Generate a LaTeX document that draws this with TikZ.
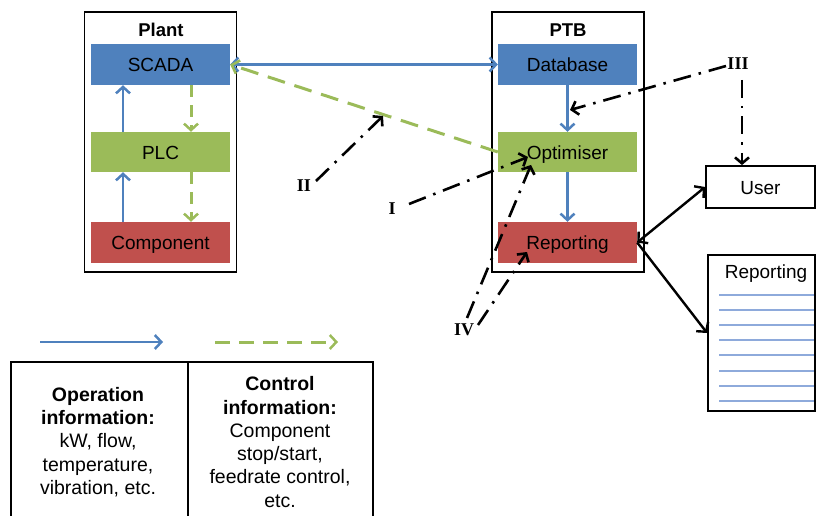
\documentclass[tikz,border=0pt]{standalone}
\usepackage{fontspec}
\setmainfont{Liberation Sans}
\newfontfamily\romfont{Liberation Serif}
\usetikzlibrary{arrows.meta}
\definecolor{bluebox}{HTML}{4F81BD}
\definecolor{greenbox}{HTML}{9BBB59}
\definecolor{redbox}{HTML}{C0504D}
\definecolor{lineblue}{HTML}{8EAADB}
\tikzset{
  unitbox/.style={draw=none, minimum width=139pt, minimum height=41pt, inner sep=0pt,
    text height=14.6pt, text depth=0pt, font=\fontsize{19}{22}\selectfont},
  frame/.style={draw=black, line width=1.8pt, inner sep=0pt, fill=none},
  titletext/.style={font=\fontsize{18.5}{22}\selectfont\bfseries, inner sep=0pt},
  barb/.style={-{Straight Barb[length=6.5pt,width=14pt,line width=2.5pt]}},
  opArr/.style={draw=bluebox, line width=2.5pt, barb},
  ctrlArr/.style={draw=greenbox, line width=3pt, dash pattern=on 12pt off 8pt, barb},
  ddArr/.style={draw=black, line width=2.6pt, dash pattern=on 18pt off 8pt on 2.5pt off 8pt,
    -{Straight Barb[length=6pt,width=14pt,line width=2.6pt]}},
  blkArr/.style={draw=black, line width=2.4pt, -{Straight Barb[length=6.5pt,width=15pt,line width=2.4pt]}},
  roman/.style={font=\fontsize{18}{20}\selectfont\romfont\bfseries, inner sep=0pt},
  plainbox/.style={draw=black, line width=1.8pt, inner sep=0pt, fill=white},
  celltext/.style={align=center, font=\fontsize{19.5}{23.3}\selectfont, inner sep=0pt},
}
\begin{document}
\begin{tikzpicture}[x=1pt,y=-1pt]
\useasboundingbox (0,0) rectangle (817,516);

% Plant
\node[frame, minimum width=152pt, minimum height=260pt] (plant) at (160.5,142) {};
\node[titletext] (planttitle) at (161,30) {Plant};
\node[unitbox, fill=bluebox] (scada) at (160.5,64.5) {SCADA};
\node[unitbox, fill=greenbox, minimum height=40pt] (plc) at (160.5,152) {PLC};
\node[unitbox, fill=redbox] (comp) at (160.5,242.5) {Component};

\draw[opArr] ([xshift=-37.5pt]comp.north) -- ([xshift=-37.5pt]plc.south);
\draw[opArr] ([xshift=-37.5pt]plc.north) -- ([xshift=-37.5pt]scada.south);
\draw[ctrlArr] ([xshift=30.5pt]scada.south) -- ([xshift=30.5pt]plc.north);
\draw[ctrlArr] ([xshift=30.5pt]plc.south) -- ([xshift=30.5pt]comp.north);

% PTB
\node[frame, minimum width=152pt, minimum height=260pt] (ptb) at (568,142) {};
\node[titletext] (ptbtitle) at (568,30) {PTB};
\node[unitbox, fill=bluebox] (db) at (567.5,64.5) {Database};
\node[unitbox, fill=greenbox, minimum height=40pt] (opt) at (567.5,152) {Optimiser};
\node[unitbox, fill=redbox] (rep) at (567.5,242.5) {Reporting};

\draw[opArr] (db.south) -- (opt.north);
\draw[opArr] (opt.south) -- (rep.north);

% between
\draw[opArr, {Straight Barb[length=6.5pt,width=14pt,line width=2.5pt]}-{Straight Barb[length=6.5pt,width=14pt,line width=2.5pt]}] (scada.east) -- (db.west);
\draw[ctrlArr, dash pattern=on 18pt off 10pt] (opt.west) -- (scada.east);

% User and report document
\node[plainbox, minimum width=109pt, minimum height=42pt, text height=15pt, text depth=0pt, font=\fontsize{19}{22}\selectfont] (user) at (760.5,187) {User};
\node[plainbox, minimum width=107pt, minimum height=156pt] (doc) at (761.5,333) {};
\node[font=\fontsize{19}{22}\selectfont, inner sep=0pt] (doctitle) at (766,274) {Reporting};
\foreach \yy [count=\k] in {295,310,325,340,355,371,386,401} {
  \coordinate (dl\k a) at (719,\yy);
  \coordinate (dl\k b) at (814,\yy);
  \draw[lineblue, line width=1.2pt] (dl\k a) -- (dl\k b);
}

\draw[blkArr, {Straight Barb[length=6.5pt,width=15pt,line width=2.4pt]}-{Straight Barb[length=6.5pt,width=15pt,line width=2.4pt]}] (rep.east) -- (user.west);
\draw[blkArr] (rep.east) -- (doc.west);

% dash-dot annotations
\node[roman] (ii) at (304,186) {II};
\node[roman] (i) at (392,209) {I};
\node[roman] (iii) at (738,64) {III};
\node[roman] (iv) at (464,330) {IV};

\coordinate (iis) at (316,181);
\coordinate (iit) at (383,116);
\coordinate (is) at (409,204);
\coordinate (it) at (528,157);
\coordinate (iiis) at (726,66);
\coordinate (iiit) at (570,110);
\coordinate (iiis2) at (742,80);
\coordinate (ivs1) at (467,318);
\coordinate (ivt1) at (531,165);
\coordinate (ivs2) at (478,325);
\coordinate (ivt2) at (527,252);

\draw[ddArr] (iis) -- (iit);
\draw[ddArr] (is) -- (it);
\draw[ddArr] (iiis) -- (iiit);
\draw[ddArr] (iiis2) -- ([xshift=-18.5pt]user.north);
\draw[ddArr] (ivs1) -- (ivt1);
\draw[ddArr] (ivs2) -- (ivt2);

% legend
\coordinate (la1) at (40,342);
\coordinate (lb1) at (163,342);
\coordinate (la2) at (215,342);
\coordinate (lb2) at (338,342);
\draw[opArr] (la1) -- (lb1);
\draw[ctrlArr, dash pattern=on 15pt off 9pt] (la2) -- (lb2);

\node[plainbox, fill=none, minimum width=177pt, minimum height=160pt, anchor=north west] (opcell) at (10,361) {};
\node[plainbox, fill=none, minimum width=185pt, minimum height=160pt, anchor=north west] (ctcell) at (187,361) {};
\node[celltext] (optext) at (98,442) {\textbf{Operation}\\\textbf{information:}\\kW, flow,\\temperature,\\vibration, etc.};
\node[celltext] (cttext) at (280,442) {\textbf{Control}\\\textbf{information:}\\Component\\stop/start,\\feedrate control,\\etc.};
\end{tikzpicture}
\end{document}
